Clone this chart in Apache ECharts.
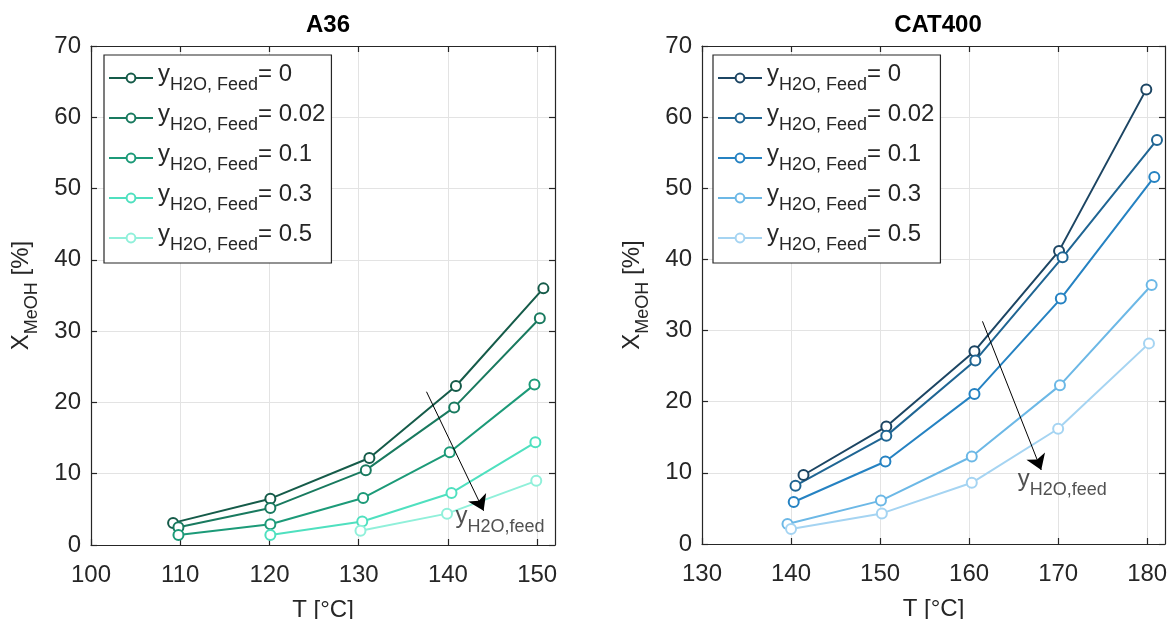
<!DOCTYPE html>
<html>
<head>
<meta charset="utf-8">
<script src="https://cdn.jsdelivr.net/npm/echarts@6/dist/echarts.min.js"></script>
<style>
  html, body { margin: 0; padding: 0; background: #fff; }
  #chart { width: 1170px; height: 619px; }
</style>
</head>
<body>
<div id="chart"></div>
<script>
// Methanol conversion vs. temperature for two catalysts, at several feed water fractions
const waterFractions = ['0', '0.02', '0.1', '0.3', '0.5'];

// A36 catalyst: temperature [°C] and conversion [%] per water fraction
const a36T0 = [109.2, 120.1, 131.2, 140.9, 150.7];
const a36X0 = [3.1, 6.5, 12.2, 22.3, 36.0];
const a36T1 = [109.8, 120.1, 130.8, 140.7, 150.3];
const a36X1 = [2.5, 5.2, 10.5, 19.3, 31.8];
const a36T2 = [109.8, 120.1, 130.5, 140.2, 149.7];
const a36X2 = [1.4, 2.9, 6.6, 13.0, 22.5];
const a36T3 = [120.1, 130.4, 140.4, 149.8];
const a36X3 = [1.4, 3.3, 7.3, 14.4];
const a36T4 = [130.2, 139.9, 149.9];
const a36X4 = [2.0, 4.4, 9.0];

// CAT400 catalyst
const catT0 = [141.4, 150.7, 160.6, 170.1, 179.9];
const catX0 = [9.7, 16.5, 27.1, 41.2, 63.9];
const catT1 = [140.5, 150.7, 160.7, 170.5, 181.1];
const catX1 = [8.2, 15.2, 25.8, 40.3, 56.8];
const catT2 = [140.3, 150.6, 160.6, 170.3, 180.8];
const catX2 = [5.9, 11.6, 21.1, 34.5, 51.6];
const catT3 = [139.6, 150.1, 160.3, 170.2, 180.5];
const catX3 = [2.8, 6.1, 12.3, 22.3, 36.4];
const catT4 = [140.0, 150.2, 160.3, 170.0, 180.2];
const catX4 = [2.1, 4.3, 8.6, 16.2, 28.2];

// Trend arrows (start, end) in data coordinates and the label anchor
const a36Arrow = [[137.6, 21.5], [144.0, 4.8]];
const a36ArrowLabel = [140.8, 3.5];
const catArrow = [[161.5, 31.3], [168.1, 10.4]];
const catArrowLabel = [165.4, 8.5];

const a36Ticks = [100, 110, 120, 130, 140, 150];
const catTicks = [130, 140, 150, 160, 170, 180];

const greens = ['#155b49', '#197a5f', '#1c9a78', '#4fe0bf', '#90f0da'];
const blues = ['#1c4563', '#1f6593', '#2582c2', '#6cb8e6', '#a5d4f2'];

const FONT = '"Liberation Sans", Arial, Helvetica, sans-serif';
const INK = '#262626';

const a36Sets = [[a36T0, a36X0], [a36T1, a36X1], [a36T2, a36X2], [a36T3, a36X3], [a36T4, a36X4]];
const catSets = [[catT0, catX0], [catT1, catX1], [catT2, catX2], [catT3, catX3], [catT4, catX4]];

// main text sits at the top of a 38px line, subscripts at its bottom
const richText = {
  m: { fontSize: 24, fontFamily: FONT, color: INK, lineHeight: 32, verticalAlign: 'top' },
  s: { fontSize: 18, fontFamily: FONT, color: INK, lineHeight: 20, verticalAlign: 'bottom', padding: [18, 0, 0, 0] }
};

function zip(t, x) { return t.map((v, i) => [v, x[i]]); }

function xAxes(idx, min, max, ticks) {
  const base = {
    gridIndex: idx, type: 'value', min: min, max: max, interval: 10,
    axisLine: { show: true, onZero: false, lineStyle: { color: INK, width: 1.2 } },
    axisTick: { show: true, inside: true, length: 6, customValues: ticks, lineStyle: { color: INK, width: 1.2 } }
  };
  const xMain = Object.assign({}, base, {
    position: 'bottom',
    axisLabel: { fontSize: 24, fontFamily: FONT, color: INK, margin: 18, customValues: ticks },
    splitLine: { show: true, lineStyle: { color: '#e3e3e3', width: 1 } },
    name: 'T [°C]', nameLocation: 'middle', nameGap: 53,
    nameTextStyle: { fontSize: 24, fontFamily: FONT, color: INK }
  });
  const xTop = Object.assign({}, base, {
    position: 'top', axisLabel: { show: false }, splitLine: { show: false }
  });
  return [xMain, xTop];
}

function yAxes(idx) {
  const base = {
    gridIndex: idx, type: 'value', min: 0, max: 70, interval: 10,
    axisLine: { show: true, onZero: false, lineStyle: { color: INK, width: 1.2 } },
    axisTick: { show: true, inside: true, length: 6, lineStyle: { color: INK, width: 1.2 } }
  };
  const yMain = Object.assign({}, base, {
    position: 'left',
    axisLabel: { fontSize: 24, fontFamily: FONT, color: INK, margin: 10 },
    splitLine: { show: true, lineStyle: { color: '#e3e3e3', width: 1 } },
    name: '{m|X}{s|MeOH}{m| [%]}', nameLocation: 'middle', nameGap: 50, nameRotate: 90,
    nameTextStyle: { rich: richText }
  });
  const yRight = Object.assign({}, base, {
    position: 'right', axisLabel: { show: false }, splitLine: { show: false }
  });
  return [yMain, yRight];
}

const series = [];
const legendNamesA = [];
const legendNamesC = [];

function addPanel(sets, colors, prefix, gridIdx, names) {
  sets.forEach((pair, i) => {
    const name = prefix + '|' + waterFractions[i];
    names.push(name);
    series.push({
      name: name, type: 'line', xAxisIndex: gridIdx * 2, yAxisIndex: gridIdx * 2,
      data: zip(pair[0], pair[1]),
      symbol: 'emptyCircle', symbolSize: 10,
      lineStyle: { color: colors[i], width: 2 },
      itemStyle: { color: colors[i], borderColor: colors[i], borderWidth: 2 },
      emphasis: { disabled: true }
    });
  });
}
addPanel(a36Sets, greens, 'A36', 0, legendNamesA);
addPanel(catSets, blues, 'CAT400', 1, legendNamesC);

function addArrow(gridIdx, arrow, labelAt) {
  series.push({
    type: 'lines', coordinateSystem: 'cartesian2d',
    xAxisIndex: gridIdx * 2, yAxisIndex: gridIdx * 2,
    data: [{ coords: arrow }],
    symbol: ['none', 'arrow'], symbolSize: [10, 15],
    lineStyle: { color: '#000', width: 1, opacity: 1 },
    z: 5
  });
  series.push({
    type: 'scatter', xAxisIndex: gridIdx * 2, yAxisIndex: gridIdx * 2,
    data: [labelAt], symbolSize: 1, itemStyle: { color: 'rgba(0,0,0,0)' },
    label: {
      show: true, position: 'right', distance: 0,
      formatter: '{m|y}{s|H2O,feed}',
      rich: richText
    },
    z: 6
  });
}
addArrow(0, a36Arrow, a36ArrowLabel);
addArrow(1, catArrow, catArrowLabel);

const xA = xAxes(0, 100, 152, a36Ticks);
const xC = xAxes(1, 130, 182, catTicks);
const yA = yAxes(0);
const yC = yAxes(1);

function legendFor(names, left) {
  return {
    data: names, orient: 'vertical', left: left, top: 55,
    itemWidth: 44, itemHeight: 11, itemGap: 4,
    padding: [3, 6, 9, 4],
    backgroundColor: '#fff', borderColor: INK, borderWidth: 1.2, borderRadius: 0,
    selectedMode: false,
    textStyle: { rich: richText },
    formatter: n => '{m|y}{s|H2O, Feed}{m|= ' + n.split('|')[1] + '}'
  };
}

const option = {
  animation: false,
  backgroundColor: '#fff',
  title: [
    { text: 'A36', left: 323, top: 8, textAlign: 'center',
      textStyle: { fontSize: 24, fontWeight: 'bold', fontFamily: FONT, color: '#000' } },
    { text: 'CAT400', left: 933, top: 8, textAlign: 'center',
      textStyle: { fontSize: 24, fontWeight: 'bold', fontFamily: FONT, color: '#000' } }
  ],
  grid: [
    { left: 91, top: 46, width: 464, height: 499, show: false, outerBoundsMode: 'none', containLabel: false },
    { left: 702, top: 46, width: 463, height: 498, show: false, outerBoundsMode: 'none', containLabel: false }
  ],
  xAxis: [xA[0], xA[1], xC[0], xC[1]],
  yAxis: [yA[0], yA[1], yC[0], yC[1]],
  legend: [legendFor(legendNamesA, 104), legendFor(legendNamesC, 713)],
  series: series
};

const chart = echarts.init(document.getElementById('chart'), null, { renderer: 'canvas' });
chart.setOption(option);
</script>
</body>
</html>
